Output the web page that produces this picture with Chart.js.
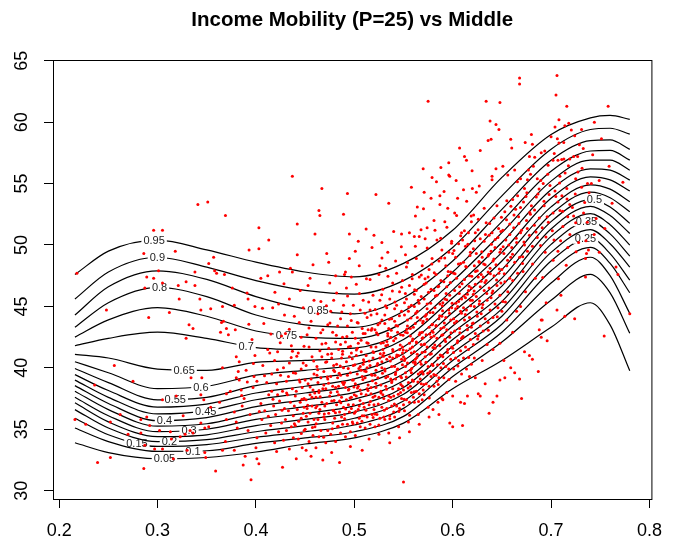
<!DOCTYPE html>
<html>
<head>
<meta charset="utf-8">
<title>Income Mobility (P=25) vs Middle</title>
<script src="https://cdn.jsdelivr.net/npm/chart.js@4.4.1/dist/chart.umd.min.js"></script>
<style>
  html, body { margin: 0; padding: 0; background: #fff; }
  #wrap { width: 674px; height: 546px; }
</style>
</head>
<body>
<div id="wrap"><canvas id="mobilityChart"></canvas></div>
<script>
const chartTitle = 'Income Mobility (P=25) vs Middle';

// Axis ticks
const xTicks = [0.2, 0.3, 0.4, 0.5, 0.6, 0.7, 0.8];
const xTickLabels = ['0.2', '0.3', '0.4', '0.5', '0.6', '0.7', '0.8'];
const yTicks = [30, 35, 40, 45, 50, 55, 60, 65];
const yTickLabels = ['30', '35', '40', '45', '50', '55', '60', '65'];

// Quantile curves, sampled at these "middle" values
const curveX = [0.216, 0.25, 0.3, 0.35, 0.4, 0.45, 0.5, 0.55, 0.6, 0.65, 0.7, 0.74, 0.76, 0.78];
const q05 = [33.9, 33.1, 32.6, 32.7, 33.15, 33.8, 34.3, 35.5, 38.3, 40.6, 43.3, 45.3, 43.5, 39.76];
const q10 = [35.1, 34.0, 33.2, 33.25, 33.85, 34.3, 34.8, 36.05, 39.3, 42.1, 45.5, 47.6, 46.1, 42.81];
const q15 = [35.9, 34.55, 33.6, 33.75, 34.35, 34.8, 35.35, 36.7, 40.0, 42.9, 46.9, 49.0, 47.5, 44.43];
const q20 = [36.6, 35.1, 34.0, 34.15, 34.8, 35.3, 35.9, 37.3, 40.6, 43.55, 47.9, 49.8, 48.5, 46.11];
const q25 = [37.15, 35.6, 34.4, 34.55, 35.3, 35.8, 36.4, 37.85, 41.2, 44.2, 48.7, 50.55, 49.3, 47.14];
const q30 = [37.6, 36.1, 34.8, 35.0, 35.8, 36.3, 36.9, 38.4, 41.75, 44.8, 49.4, 51.25, 50.1, 48.2];
const q35 = [38.1, 36.6, 35.25, 35.45, 36.3, 36.85, 37.45, 38.95, 42.3, 45.4, 50.05, 51.95, 50.9, 49.1];
const q40 = [38.55, 37.1, 35.7, 35.95, 36.85, 37.4, 38.0, 39.5, 42.85, 46.0, 50.7, 52.55, 51.65, 49.99];
const q45 = [39.0, 37.6, 36.25, 36.5, 37.4, 37.95, 38.55, 40.05, 43.4, 46.65, 51.3, 53.15, 52.4, 50.94];
const q50 = [39.45, 38.15, 36.8, 37.05, 37.95, 38.5, 39.1, 40.6, 43.95, 47.3, 51.9, 53.7, 53.1, 51.76];
const q55 = [39.95, 38.8, 37.4, 37.6, 38.55, 39.1, 39.65, 41.15, 44.5, 48.0, 52.5, 54.3, 53.85, 52.7];
const q60 = [40.5, 39.6, 38.3, 38.5, 39.4, 39.8, 40.25, 41.7, 45.1, 48.7, 53.1, 54.9, 54.55, 53.52];
const q65 = [41.1, 40.8, 39.9, 39.8, 40.45, 40.6, 40.9, 42.3, 45.7, 49.4, 53.8, 55.55, 55.3, 54.39];
const q70 = [41.8, 42.4, 42.9, 42.4, 41.65, 41.5, 41.6, 42.95, 46.35, 50.2, 54.5, 56.2, 56.1, 55.28];
const q75 = [42.5, 43.9, 44.9, 44.2, 43.0, 42.5, 42.4, 43.7, 47.05, 51.0, 55.2, 56.9, 56.9, 56.09];
const q80 = [43.3, 45.3, 46.55, 45.8, 44.3, 43.5, 43.3, 44.6, 47.8, 51.9, 56.0, 57.65, 57.7, 56.91];
const q85 = [44.3, 46.6, 47.9, 47.2, 45.8, 44.8, 44.4, 45.7, 48.7, 52.9, 56.9, 58.5, 58.55, 57.78];
const q90 = [45.6, 47.8, 49.0, 48.2, 47.1, 46.3, 46.0, 47.1, 49.8, 54.0, 57.8, 59.4, 59.5, 59.02];
const q95 = [47.6, 49.5, 50.4, 49.6, 48.6, 47.8, 47.4, 48.5, 51.2, 55.5, 59.0, 60.35, 60.55, 60.22];

const levels = ['0.05', '0.1', '0.15', '0.2', '0.25', '0.3', '0.35', '0.4', '0.45', '0.5',
                '0.55', '0.6', '0.65', '0.7', '0.75', '0.8', '0.85', '0.9', '0.95'];
const curves = [q05, q10, q15, q20, q25, q30, q35, q40, q45, q50,
                q55, q60, q65, q70, q75, q80, q85, q90, q95];
// where along x each curve carries its level label
const labelAt = [0.307, 0.336, 0.279, 0.312, 0.735, 0.332, 0.736, 0.307, 0.349, 0.744,
                 0.318, 0.344, 0.327, 0.39, 0.431, 0.302, 0.463, 0.2998, 0.2965];

// Counties: [middle, mobility]
const westPoints = [
  [0.218,47.7],[0.216,35.8],[0.227,35.4],[0.239,32.3],[0.236,38.6],[0.248,44.7],[0.252,32.7],[0.252,35.6],
  [0.256,40.2],[0.262,36.2],[0.27,34.6],[0.275,38.9],[0.283,35.8],[0.289,36.0],[0.292,35.3],[0.283,34.7],
  [0.286,31.8],[0.287,33.7],[0.291,44.1],[0.289,47.4],[0.296,51.2],[0.305,51.2],[0.286,49.3],[0.301,47.9],
  [0.296,47.3],[0.305,46.9],[0.287,46.5],[0.297,33.4],[0.302,34.9],[0.305,37.4],[0.305,33.4],[0.312,44.5],
  [0.313,34.8],[0.314,34.2],[0.316,32.6],[0.318,49.5],[0.319,37.7],[0.322,45.6],[0.321,46.7],[0.323,34.4],
  [0.326,36.1],[0.328,34.6],[0.329,47.0],[0.329,42.4],[0.33,33.3],[0.332,43.5],[0.333,34.9],[0.334,39.2],
  [0.336,43.2],[0.336,34.7],[0.338,47.8],[0.338,46.7],[0.341,53.3],[0.343,45.6],[0.344,44.7],[0.344,37.8],
  [0.344,35.5],[0.345,39.2],[0.347,37.4],[0.348,35.1],[0.348,33.1],[0.349,32.7],[0.351,53.5],[0.352,48.5],
  [0.352,35.2],[0.354,44.8],[0.354,36.8],[0.357,49.0],[0.358,47.9],[0.359,31.6],[0.36,47.7],[0.363,37.2],
  [0.364,42.9],[0.365,43.7],[0.366,45.0],[0.366,40.0],[0.366,33.3],[0.367,43.8],[0.368,47.6],[0.369,52.4],
  [0.369,34.0],[0.37,43.2],[0.37,35.8],[0.37,37.9],[0.372,42.7],[0.374,38.1],[0.376,46.5],[0.378,45.1],
  [0.378,36.4],[0.378,33.3],[0.379,43.1],[0.38,40.9],[0.38,35.6],[0.38,39.2],[0.381,35.1],[0.382,39.7],
  [0.383,40.5],[0.383,39.0],[0.385,38.2],[0.386,36.9],[0.387,32.1],[0.388,37.5],[0.389,32.8],[0.39,39.8],
  [0.391,46.1],[0.392,45.6],[0.392,34.9],[0.393,49.6],[0.394,36.2],[0.395,30.9],[0.396,42.3],[0.397,38.4],
  [0.398,39.3],[0.399,45.0],[0.399,41.0],[0.4,33.5],[0.401,34.3],[0.401,38.9],[0.401,32.6],[0.403,32.2],
  [0.403,51.4],[0.403,49.7],[0.405,37.1],[0.405,47.3],[0.406,35.8],[0.407,40.2],[0.408,43.6],[0.409,36.5],
  [0.41,34.7],[0.411,38.8],[0.412,41.5],[0.412,47.5],[0.413,37.8],[0.413,50.4],[0.414,41.2],[0.415,35.3],
  [0.416,39.5],[0.417,44.9],[0.418,36.9],[0.419,33.9],[0.416,38.1],[0.419,40.6],
  [0.3855,37.75],[0.3912,38.85],[0.4034,36.45],[0.4087,39.35],[0.4126,36.05],[0.4173,37.45],[0.4218,39.85],
  [0.4265,36.55],[0.4312,37.95],[0.4358,40.85],[0.4391,35.45],[0.4247,42.05],[0.4152,42.75],[0.3974,40.35],
  [0.3928,43.55],[0.4066,44.85],[0.4193,46.15],[0.4285,46.85],[0.4339,43.15],[0.4371,41.35]
];
const centralPoints = [
  [0.421,33.2],[0.427,31.9],[0.428,34.1],[0.423,34.8],[0.426,35.5],[0.42,36.2],[0.429,36.7],[0.424,37.3],
  [0.422,37.8],[0.427,38.1],[0.421,38.7],[0.425,39.4],[0.428,40.0],[0.422,41.3],[0.426,42.6],[0.429,44.3],
  [0.423,45.2],[0.424,47.8],
  [0.434,33.4],[0.438,34.3],[0.431,34.9],[0.436,35.2],[0.43,35.8],[0.433,36.5],[0.439,36.9],[0.435,37.2],
  [0.432,37.8],[0.437,38.3],[0.431,38.9],[0.438,39.6],[0.434,40.4],[0.436,41.8],[0.43,42.8],[0.439,44.2],
  [0.434,45.6],[0.435,48.1],[0.437,47.8],[0.437,55.6],[0.433,39.3],[0.438,36.1],
  [0.441,32.6],[0.447,33.5],[0.443,34.2],[0.449,34.9],[0.44,35.3],[0.446,35.9],[0.448,36.3],[0.442,36.6],
  [0.445,37.2],[0.449,37.5],[0.441,38.1],[0.447,38.4],[0.444,39.0],[0.446,39.9],[0.448,40.4],[0.443,41.2],
  [0.446,42.5],[0.444,43.7],[0.448,44.9],[0.445,46.3],[0.442,49.2],[0.442,51.7],[0.44,37.7],[0.449,36.8],
  [0.451,33.3],[0.456,32.8],[0.454,34.0],[0.458,34.5],[0.45,35.0],[0.453,35.6],[0.459,35.8],[0.455,36.3],
  [0.452,36.7],[0.457,36.9],[0.451,37.4],[0.455,37.8],[0.458,38.2],[0.453,38.7],[0.456,39.1],[0.459,39.5],
  [0.451,40.2],[0.457,40.9],[0.454,41.7],[0.452,42.7],[0.456,43.8],[0.459,45.5],[0.453,46.7],[0.455,47.3],
  [0.458,48.4],[0.45,39.0],[0.457,37.6],
  [0.461,33.5],[0.468,32.5],[0.464,34.4],[0.466,34.9],[0.46,35.2],[0.463,35.8],[0.469,36.0],[0.465,36.6],
  [0.462,36.9],[0.467,37.2],[0.461,37.6],[0.464,38.0],[0.468,38.3],[0.463,38.8],[0.466,39.2],[0.469,39.7],
  [0.462,40.1],[0.467,40.9],[0.465,41.4],[0.461,42.4],[0.468,43.1],[0.463,44.4],[0.466,45.4],[0.46,50.9],
  [0.464,52.8],[0.465,52.4],[0.467,54.6],[0.464,36.3],[0.469,38.6],[0.462,39.4],
  [0.471,33.9],[0.477,33.1],[0.476,34.6],[0.473,34.9],[0.478,35.5],[0.47,35.8],[0.474,36.3],[0.479,36.5],
  [0.472,37.1],[0.477,37.3],[0.475,37.7],[0.471,38.3],[0.478,38.5],[0.473,39.1],[0.476,39.3],[0.479,39.8],
  [0.472,40.5],[0.477,40.8],[0.474,41.6],[0.471,42.0],[0.478,42.9],[0.473,43.5],[0.476,44.6],[0.479,45.5],
  [0.472,49.3],[0.474,48.6],[0.475,46.9],[0.47,36.9],[0.476,38.0],[0.479,40.2],[0.473,41.1],
  [0.481,34.0],[0.485,32.3],[0.486,34.7],[0.483,35.2],[0.488,35.4],[0.48,35.9],[0.487,36.0],[0.485,36.4],
  [0.489,36.8],[0.482,37.0],[0.487,37.6],[0.484,37.8],[0.481,38.4],[0.484,38.5],[0.488,38.8],[0.483,39.2],
  [0.486,39.4],[0.489,40.0],[0.482,40.3],[0.487,40.8],[0.488,41.1],[0.484,41.5],[0.481,42.1],[0.488,42.5],
  [0.483,43.4],[0.486,44.0],[0.489,45.1],[0.482,46.1],[0.481,47.5],[0.489,52.5],[0.485,37.3],[0.48,39.7],
  [0.486,41.9],
  [0.491,34.4],[0.496,33.6],[0.496,34.8],[0.493,35.4],[0.498,35.6],[0.49,36.2],[0.495,36.4],[0.499,37.0],
  [0.494,37.0],[0.492,37.4],[0.497,37.6],[0.494,38.2],[0.491,38.4],[0.498,39.0],[0.499,39.0],[0.493,39.4],
  [0.496,39.6],[0.499,40.2],[0.492,40.5],[0.497,41.2],[0.494,41.7],[0.491,42.1],[0.498,42.9],[0.493,43.4],
  [0.496,44.4],[0.499,45.1],[0.492,46.5],[0.49,47.6],[0.491,47.8],[0.495,50.9],[0.495,48.9],[0.497,47.4],
  [0.493,54.2],[0.49,38.8],[0.495,40.9],[0.497,36.7],
  [0.501,34.5],[0.508,33.3],[0.506,35.2],[0.503,35.5],[0.508,36.1],[0.5,36.3],[0.505,36.9],[0.509,37.1],
  [0.502,37.7],[0.507,37.9],[0.504,38.5],[0.501,38.7],[0.508,39.3],[0.503,39.5],[0.506,40.1],[0.509,40.3],
  [0.502,41.0],[0.507,41.3],[0.504,42.0],[0.501,42.4],[0.508,43.2],[0.503,43.7],[0.506,44.7],[0.509,45.5],
  [0.502,46.8],[0.504,50.3],[0.501,49.5],[0.505,48.3],[0.505,35.9],[0.5,37.8],[0.507,39.8],[0.503,41.6],
  [0.509,42.8],[0.504,36.6],[0.506,38.2],
  [0.511,35.1],[0.515,34.2],[0.516,35.4],[0.513,36.0],[0.518,36.2],[0.51,36.8],[0.515,37.0],[0.519,37.6],
  [0.512,37.8],[0.517,38.4],[0.514,38.6],[0.511,39.2],[0.518,39.4],[0.513,40.0],[0.516,40.2],[0.519,40.8],
  [0.512,41.0],[0.517,41.7],[0.514,42.0],[0.511,42.8],[0.518,43.2],[0.513,44.1],[0.516,44.7],[0.519,45.9],
  [0.512,51.3],[0.518,49.8],[0.52,50.8],[0.51,36.1],[0.517,37.9],[0.512,39.7],[0.519,41.3],[0.514,43.1],
  [0.516,47.2],[0.513,38.3],[0.51,40.5],[0.517,44.3],
  [0.521,35.2],[0.525,34.6],[0.526,35.9],[0.523,36.2],[0.528,36.8],[0.52,37.0],[0.525,37.6],[0.529,37.8],
  [0.522,38.4],[0.527,38.6],[0.524,39.2],[0.521,39.4],[0.528,40.0],[0.523,40.2],[0.526,40.8],[0.529,41.0],
  [0.522,41.7],[0.527,42.0],[0.524,42.7],[0.521,43.1],[0.528,43.9],[0.523,44.4],[0.526,45.5],[0.529,46.4],
  [0.522,54.1],[0.528,50.2],[0.526,48.3],[0.52,36.6],[0.527,38.1],[0.522,39.8],[0.529,41.5],[0.524,43.5],
  [0.521,37.7],[0.528,40.5],[0.525,47.6],
  [0.531,35.8],[0.536,33.9],[0.535,34.7],[0.536,36.1],[0.533,36.7],[0.538,36.9],[0.53,37.5],[0.535,37.7],
  [0.539,38.3],[0.532,38.5],[0.537,39.1],[0.534,39.3],[0.531,39.9],[0.538,40.1],[0.533,40.7],[0.536,40.9],
  [0.539,41.5],[0.532,41.8],[0.537,42.5],[0.534,42.8],[0.531,43.6],[0.538,44.0],[0.533,44.9],[0.536,45.6],
  [0.539,46.9],[0.532,48.1],[0.535,53.4],[0.54,51.1],[0.53,36.0],[0.537,37.6],[0.532,39.2],[0.539,40.8],
  [0.534,42.6],[0.531,44.3],[0.538,38.8],[0.534,49.4],[0.53,41.2],[0.535,43.2],
  [0.541,36.0],[0.546,34.3],[0.545,35.2],[0.546,36.7],[0.543,36.9],[0.548,37.5],[0.54,37.7],[0.545,38.3],
  [0.549,38.5],[0.542,39.1],[0.547,39.3],[0.544,39.9],[0.541,40.1],[0.548,40.7],[0.543,40.9],[0.546,41.5],
  [0.549,41.7],[0.542,42.4],[0.547,42.7],[0.544,43.4],[0.541,43.8],[0.548,44.6],[0.543,45.1],[0.546,46.2],
  [0.549,47.1],[0.542,48.7],[0.548,50.9],[0.54,36.4],[0.547,38.0],[0.542,39.6],[0.549,41.2],[0.544,42.9],
  [0.541,44.8],[0.548,39.2],[0.543,47.7],[0.55,30.7],[0.545,41.0],[0.54,42.2],
  [0.551,36.5],[0.556,34.8],[0.555,35.6],[0.556,37.2],[0.553,37.4],[0.558,38.0],[0.55,38.2],[0.555,38.8],
  [0.559,39.0],[0.552,39.6],[0.557,39.8],[0.554,40.4],[0.551,40.6],[0.558,41.2],[0.553,41.4],[0.556,42.0],
  [0.559,42.2],[0.552,42.9],[0.557,43.2],[0.554,43.9],[0.551,44.3],[0.558,45.1],[0.553,45.6],[0.556,46.7],
  [0.559,47.6],[0.552,49.2],[0.556,51.0],[0.558,54.7],[0.55,37.0],[0.557,38.5],[0.552,40.1],[0.559,41.7],
  [0.554,43.4],[0.551,45.3],[0.558,39.6],[0.553,48.2],[0.557,42.6],[0.55,40.9],[0.555,44.6],
  [0.561,37.2],[0.566,35.4],[0.565,36.2],[0.566,37.9],[0.563,38.1],[0.568,38.7],[0.56,38.9],[0.565,39.5],
  [0.569,39.7],[0.562,40.3],[0.567,40.5],[0.564,41.1],[0.561,41.3],[0.568,41.9],[0.563,42.1],[0.566,42.7],
  [0.569,42.9],[0.562,43.6],[0.567,43.9],[0.564,44.6],[0.561,45.0],[0.568,45.8],[0.563,46.3],[0.566,47.4],
  [0.569,48.3],[0.562,49.9],[0.561,50.7],[0.566,50.7],[0.564,53.1],[0.56,37.6],[0.567,39.1],[0.562,40.7],
  [0.569,42.4],[0.564,44.1],[0.561,46.0],[0.568,40.3],[0.563,48.9],[0.56,43.3],[0.565,45.5],[0.569,37.4],
  [0.571,37.8],[0.576,36.0],[0.575,36.8],[0.576,38.5],[0.573,38.7],[0.578,39.3],[0.57,39.5],[0.575,40.1],
  [0.579,40.3],[0.572,40.9],[0.577,41.1],[0.574,41.7],[0.571,41.9],[0.578,42.5],[0.573,42.7],[0.576,43.3],
  [0.579,43.5],[0.572,44.2],[0.577,44.5],[0.574,45.2],[0.571,45.6],[0.578,46.4],[0.573,46.9],[0.576,48.0],
  [0.579,48.9],[0.572,50.5],[0.57,56.2],[0.571,54.3],[0.574,51.4],[0.578,53.8],[0.57,38.2],[0.577,39.7],
  [0.572,41.3],[0.579,43.0],[0.574,44.8],[0.571,46.8],[0.575,61.7],[0.579,55.5],[0.57,43.8],[0.575,47.4],
  [0.581,38.5],[0.58,36.6],[0.586,36.2],[0.585,37.2],[0.589,37.5],[0.586,39.2],[0.583,39.4],[0.588,40.0],
  [0.58,40.2],[0.585,40.8],[0.589,41.0],[0.582,41.6],[0.587,41.8],[0.584,42.4],[0.581,42.6],[0.588,43.2],
  [0.583,43.4],[0.586,44.0],[0.589,44.2],[0.582,44.9],[0.587,45.2],[0.584,45.9],[0.581,46.3],[0.588,47.1],
  [0.583,47.6],[0.586,48.7],[0.589,49.6],[0.582,51.2],[0.581,52.0],[0.588,56.3],[0.587,54.0],[0.587,53.3],
  [0.584,50.4],[0.58,44.5],[0.585,46.6],[0.58,42.9],[0.584,38.9],
  [0.591,39.2],[0.59,37.4],[0.597,35.5],[0.594,38.0],[0.596,39.9],[0.593,40.1],[0.598,40.7],[0.59,40.9],
  [0.595,41.5],[0.599,41.7],[0.592,42.3],[0.597,42.5],[0.594,43.1],[0.591,43.3],[0.598,43.9],[0.593,44.1],
  [0.596,44.7],[0.599,44.9],[0.592,45.6],[0.597,45.9],[0.594,46.6],[0.591,47.0],[0.598,47.8],[0.593,48.3],
  [0.596,49.4],[0.599,50.3],[0.592,51.9],[0.596,56.7],[0.596,55.7],[0.597,55.6],[0.595,53.0],[0.59,45.3],
  [0.595,47.5],[0.59,42.7],
  [0.601,39.9],[0.6,37.7],[0.608,37.2],[0.6,35.2],[0.603,38.9],[0.609,39.5],[0.606,40.6],[0.603,40.8],
  [0.608,41.4],[0.6,41.6],[0.605,42.2],[0.609,42.4],[0.602,43.0],[0.607,43.2],[0.604,43.8],[0.601,44.0],
  [0.608,44.6],[0.603,44.8],[0.606,45.4],[0.609,45.6],[0.602,46.3],[0.607,46.6],[0.604,47.3],[0.601,47.7],
  [0.608,48.5],[0.603,49.0],[0.606,50.1],[0.609,51.0],[0.602,52.6],[0.604,52.4],[0.605,53.8],[0.607,57.9],
  [0.605,45.0],[0.6,49.3],
  [0.611,40.8],[0.61,35.3],[0.612,37.1],[0.615,37.7],[0.617,39.3],[0.614,39.9],[0.619,40.3],[0.616,41.5],
  [0.613,41.7],[0.618,42.3],[0.61,42.5],[0.615,43.1],[0.619,43.3],[0.612,43.9],[0.617,44.1],[0.614,44.7],
  [0.611,44.9],[0.618,45.5],[0.613,45.7],[0.616,46.3],[0.619,46.5],[0.612,47.2],[0.617,47.5],[0.614,48.2],
  [0.611,48.6],[0.618,49.4],[0.613,49.9],[0.616,51.0],[0.619,51.9],[0.612,57.2],[0.614,56.9],[0.611,54.5],
  [0.615,46.0],[0.61,50.4],
  [0.5621,52.35],[0.5703,52.95],[0.5835,55.15],[0.5912,54.35],[0.6035,55.25],[0.6142,53.55],[0.6197,56.05]
];
// the thickest part of the cloud
const denseCore = [
  [0.4435,35.65],[0.4512,36.05],[0.4468,37.45],[0.4551,38.45],[0.4403,39.55],[0.4587,40.55],[0.4489,41.75],
  [0.4526,36.95],[0.4574,35.15],[0.4447,38.85],[0.4598,37.95],[0.4415,40.95],[0.4539,43.25],[0.4461,34.65],
  [0.4612,35.45],[0.4695,36.25],[0.4653,37.65],[0.4738,38.75],[0.4776,35.05],[0.4627,39.85],[0.4709,40.45],
  [0.4794,37.35],[0.4671,41.95],[0.4752,43.65],[0.4608,36.75],[0.4688,34.35],[0.4724,39.25],[0.4769,41.15],
  [0.4641,38.15],[0.4785,36.55],[0.4716,45.05],[0.4659,42.85],
  [0.4808,36.35],[0.4863,37.15],[0.4827,38.05],[0.4891,38.65],[0.4846,39.55],[0.4912,36.65],[0.4957,37.55],
  [0.4938,39.95],[0.4979,40.75],[0.4881,41.35],[0.4924,42.55],[0.4969,43.85],[0.4835,35.25],[0.4902,35.85],
  [0.4944,38.25],[0.4986,35.45],[0.4857,40.15],[0.4817,42.65],[0.4961,41.75],[0.4873,44.55],[0.4931,45.85],
  [0.4996,38.45],
  [0.5014,36.45],[0.5058,37.35],[0.5032,38.35],[0.5087,39.05],[0.5046,39.95],[0.5093,40.65],[0.5021,41.45],
  [0.5069,42.25],[0.5077,35.65],[0.5118,36.55],[0.5163,37.25],[0.5139,38.15],[0.5184,38.95],[0.5105,39.75],
  [0.5151,40.55],[0.5196,41.25],[0.5127,42.05],[0.5172,43.05],[0.5108,44.45],[0.5146,45.35],[0.5039,43.65],
  [0.5191,35.95],[0.5006,40.25],[0.5174,39.45],[0.5123,47.25],[0.5052,46.05],
  [0.5208,36.25],[0.5243,37.05],[0.5271,37.95],[0.5219,38.75],[0.5286,39.55],[0.5237,40.35],[0.5264,41.15],
  [0.5295,42.05],[0.5226,42.85],[0.5259,43.65],[0.5212,44.75],[0.5278,45.95],[0.5304,36.55],[0.5348,37.35],
  [0.5327,38.25],[0.5383,38.95],[0.5312,39.75],[0.5366,40.55],[0.5394,41.35],[0.5331,42.15],[0.5375,43.05],
  [0.5356,43.95],[0.5318,45.05],[0.5387,46.25],[0.5342,47.45],[0.5249,35.35],[0.5361,35.85],[0.5297,40.95],
  [0.5339,41.85],[0.5281,48.95],
  [0.5407,37.05],[0.5446,37.85],[0.5473,38.65],[0.5418,39.45],[0.5489,40.25],[0.5432,41.05],[0.5467,41.85],
  [0.5495,42.65],[0.5424,43.45],[0.5458,44.25],[0.5413,45.35],[0.5481,46.55],[0.5506,37.45],[0.5547,38.35],
  [0.5528,39.25],[0.5583,39.95],[0.5515,40.75],[0.5567,41.55],[0.5594,42.35],[0.5533,43.15],[0.5576,44.05],
  [0.5554,44.95],[0.5519,46.05],[0.5588,47.25],[0.5541,48.55],[0.5453,36.45],[0.5562,36.15],[0.5497,41.45],
  [0.5539,42.85],[0.5478,49.85],[0.5436,39.85],[0.5599,40.45],
  [0.5608,38.05],[0.5646,38.85],[0.5673,39.65],[0.5618,40.45],[0.5689,41.25],[0.5632,42.05],[0.5667,42.85],
  [0.5695,43.65],[0.5624,44.45],[0.5658,45.25],[0.5613,46.35],[0.5681,47.55],[0.5706,38.65],[0.5747,39.55],
  [0.5728,40.45],[0.5783,41.15],[0.5715,41.95],[0.5767,42.75],[0.5794,43.55],[0.5733,44.35],[0.5776,45.25],
  [0.5754,46.15],[0.5719,47.25],[0.5788,48.45],[0.5741,49.75],[0.5653,37.25],[0.5762,37.55],[0.5697,42.45],
  [0.5739,43.95],[0.5678,51.25],[0.5636,40.85],[0.5799,41.65],
  [0.5808,39.45],[0.5846,40.25],[0.5873,41.05],[0.5818,41.85],[0.5889,42.65],[0.5832,43.45],[0.5867,44.25],
  [0.5895,45.05],[0.5824,45.85],[0.5858,46.65],[0.5813,47.75],[0.5881,48.95],[0.5906,40.35],[0.5947,41.25],
  [0.5928,42.15],[0.5983,42.85],[0.5915,43.65],[0.5967,44.45],[0.5994,45.25],[0.5933,46.05],[0.5976,46.95],
  [0.5954,47.85],[0.5919,48.95],[0.5988,50.15],[0.5941,51.45],[0.5853,38.65],[0.5962,39.05],[0.5897,44.65],
  [0.5939,45.55],[0.5878,50.55],
  [0.6008,41.25],[0.6046,42.05],[0.6073,42.85],[0.6018,43.65],[0.6089,44.45],[0.6032,45.25],[0.6067,46.05],
  [0.6095,46.85],[0.6024,47.65],[0.6058,48.45],[0.6013,49.55],[0.6081,50.75],[0.6106,42.55],[0.6147,43.45],
  [0.6128,44.35],[0.6183,45.05],[0.6115,45.85],[0.6167,46.65],[0.6194,47.45],[0.6133,48.25],[0.6176,49.15],
  [0.6154,50.05],[0.6119,51.15],[0.6188,52.35],[0.6053,40.15],[0.6162,40.85],
  [0.6208,43.65],[0.6246,44.55],[0.6273,45.45],[0.6218,46.25],[0.6289,47.05],[0.6232,47.85],[0.6267,48.65],
  [0.6295,49.45],[0.6224,50.35],[0.6258,51.25],[0.6213,52.45],[0.6306,45.15],[0.6347,46.05],[0.6328,46.95],
  [0.6383,47.65],[0.6315,48.45],[0.6367,49.25],[0.6394,50.05],[0.6333,50.85],[0.6376,51.75],[0.6254,42.35],
  [0.6362,43.05],
  [0.6408,46.25],[0.6446,47.15],[0.6473,48.05],[0.6418,48.85],[0.6489,49.65],[0.6432,50.45],[0.6467,51.35],
  [0.6495,52.25],[0.6524,47.65],[0.6558,48.75],[0.6513,49.85],[0.6581,50.85],[0.6547,52.05],[0.6592,53.15],
  [0.6453,44.15],[0.6536,45.35],
  [0.6608,49.25],[0.6646,50.55],[0.6673,51.75],[0.6689,53.05],[0.6724,50.25],[0.6758,51.35],[0.6783,52.65],
  [0.6745,53.95],[0.6832,52.85],[0.6867,54.15],[0.6895,55.25],[0.6928,53.55],[0.6966,55.75],[0.6715,47.85]
];
const eastPoints = [
  [0.621,41.9],[0.623,39.2],[0.626,37.9],[0.628,37.7],[0.622,40.8],[0.626,42.6],[0.623,42.8],[0.628,43.4],
  [0.62,43.6],[0.625,44.2],[0.629,44.4],[0.622,45.0],[0.627,45.2],[0.624,45.8],[0.621,46.0],[0.628,46.6],
  [0.623,46.8],[0.626,47.4],[0.629,47.6],[0.622,48.3],[0.627,48.6],[0.624,49.3],[0.621,49.7],[0.628,50.5],
  [0.623,51.0],[0.626,52.1],[0.62,54.6],[0.627,54.8],[0.624,54.3],[0.628,57.7],[0.625,47.9],[0.62,45.5],
  [0.631,43.0],[0.633,38.7],[0.637,36.3],[0.63,40.6],[0.635,41.9],[0.636,43.7],[0.633,44.0],[0.638,44.7],
  [0.63,44.9],[0.635,45.5],[0.639,45.7],[0.632,46.3],[0.637,46.5],[0.634,47.1],[0.631,47.4],[0.638,48.1],
  [0.633,48.4],[0.636,49.1],[0.639,49.5],[0.632,50.3],[0.637,50.8],[0.634,51.8],[0.632,53.0],[0.634,61.7],
  [0.638,60.1],[0.636,58.5],[0.639,58.6],[0.636,47.8],[0.63,49.0],
  [0.641,44.1],[0.641,37.2],[0.645,37.7],[0.648,39.0],[0.641,41.5],[0.648,42.0],[0.646,44.9],[0.643,45.2],
  [0.648,45.9],[0.64,46.1],[0.645,46.7],[0.649,46.9],[0.642,47.5],[0.647,47.7],[0.644,48.4],[0.641,48.7],
  [0.648,49.4],[0.643,49.8],[0.646,50.6],[0.649,51.1],[0.642,52.2],[0.644,56.2],[0.64,55.6],[0.64,55.3],
  [0.644,59.8],[0.647,59.4],[0.648,61.6],[0.645,53.2],[0.64,51.0],
  [0.651,45.4],[0.653,39.2],[0.652,40.6],[0.659,40.0],[0.655,43.9],[0.656,46.2],[0.653,47.0],[0.658,47.3],
  [0.65,48.0],[0.655,48.3],[0.659,49.0],[0.652,49.3],[0.657,50.0],[0.654,50.4],[0.651,51.2],[0.658,51.7],
  [0.653,52.7],[0.656,55.7],[0.651,56.4],[0.659,58.6],[0.655,53.6],[0.65,44.6],
  [0.661,47.1],[0.663,39.6],[0.668,39.1],[0.665,44.6],[0.669,45.0],[0.661,42.9],[0.666,47.7],[0.663,48.6],
  [0.668,49.0],[0.66,49.8],[0.665,50.2],[0.669,51.0],[0.662,51.4],[0.667,52.3],[0.664,52.9],[0.66,57.9],
  [0.663,56.1],[0.669,55.4],[0.668,63.6],[0.668,63.1],[0.666,54.0],[0.661,53.7],
  [0.671,48.5],[0.673,41.3],[0.678,41.0],[0.67,37.5],[0.674,46.2],[0.676,49.5],[0.673,50.0],[0.678,50.8],
  [0.67,51.2],[0.675,52.0],[0.679,52.5],[0.672,53.5],[0.677,56.1],[0.678,57.2],[0.673,54.6],[0.676,55.3],
  [0.681,49.9],[0.681,40.7],[0.688,43.1],[0.687,39.7],[0.684,47.3],[0.686,50.6],[0.683,51.6],[0.688,52.2],
  [0.68,53.2],[0.685,53.9],[0.68,59.0],[0.681,58.2],[0.69,57.5],[0.686,55.4],[0.682,56.4],
  [0.691,51.4],[0.69,43.9],[0.691,43.9],[0.695,45.3],[0.696,42.2],[0.69,42.5],[0.7,58.8],[0.694,49.4],
  [0.696,52.3],[0.693,53.2],[0.698,54.1],[0.692,55.0],[0.697,56.5],
  [0.702,52.6],[0.706,44.7],[0.707,49.5],[0.703,50.4],[0.709,52.8],[0.707,53.5],[0.704,54.4],[0.709,55.6],
  [0.702,56.9],[0.707,56.9],[0.704,59.6],[0.708,60.2],[0.705,62.2],[0.706,63.8],[0.708,58.3],
  [0.711,54.0],[0.716,54.6],[0.712,51.5],[0.717,52.3],[0.714,59.7],[0.718,59.9],[0.716,61.3],[0.71,45.9],
  [0.714,44.2],[0.719,53.3],[0.713,57.0],[0.719,57.0],[0.717,49.8],
  [0.723,57.2],[0.727,57.2],[0.724,58.9],[0.725,55.4],[0.725,51.8],[0.724,44.0],[0.728,50.2],[0.731,54.7],
  [0.731,59.4],[0.737,55.0],[0.736,49.3],[0.738,49.6],[0.735,48.9],[0.735,47.4],[0.733,52.6],[0.741,55.0],
  [0.744,60.0],[0.749,49.4],[0.754,42.6],[0.759,56.4],[0.758,61.3],[0.766,48.2],[0.768,47.6],[0.773,55.1],
  [0.78,44.4],[0.762,53.4],
  [0.7013,51.15],[0.7048,53.95],[0.7086,55.05],[0.7032,57.45],[0.7064,58.65],[0.7097,50.35],[0.7021,48.75],
  [0.7075,47.25],[0.7118,52.75],[0.7143,55.85],[0.7176,56.45],[0.7129,58.35],[0.7162,53.75],[0.7191,50.85],
  [0.7108,56.95],[0.7154,48.35],[0.7217,53.05],[0.7246,54.15],[0.7273,55.95],[0.7229,52.35],[0.7288,58.15],
  [0.7254,49.45],[0.7206,59.35],[0.7315,56.25],[0.7342,53.45],[0.7368,51.85],[0.7327,57.85],[0.7386,54.25],
  [0.7355,50.35],[0.7423,57.35],[0.7458,52.15],[0.7489,55.25],[0.7512,58.65],[0.7547,51.35],[0.7438,50.85],
  [0.6812,48.45],[0.6847,51.05],[0.6878,54.55],[0.6834,57.15],[0.6893,49.95],[0.6915,47.35],[0.6948,50.65],
  [0.6972,51.85],[0.6989,54.85],[0.6936,57.65],[0.6623,52.45],[0.6658,55.15],[0.6712,49.05],[0.6754,54.25],
  [0.6791,55.75],[0.6737,58.35]
];

const FONT = '"Liberation Sans", Arial, Helvetica, sans-serif';
const labelBoxes = [];

// y pixel of a drawn (bezier) curve at pixel x
function curvePixelY(points, px) {
  for (let i = 0; i < points.length - 1; i++) {
    const a = points[i], b = points[i + 1];
    if (px < a.x || px > b.x) continue;
    const c1x = a.cp2x ?? a.x, c1y = a.cp2y ?? a.y;
    const c2x = b.cp1x ?? b.x, c2y = b.cp1y ?? b.y;
    let best = a.y, gap = Infinity;
    for (let k = 0; k <= 80; k++) {
      const t = k / 80, u = 1 - t;
      const bx = u * u * u * a.x + 3 * u * u * t * c1x + 3 * u * t * t * c2x + t * t * t * b.x;
      const d = Math.abs(bx - px);
      if (d < gap) {
        gap = d;
        best = u * u * u * a.y + 3 * u * u * t * c1y + 3 * u * t * t * c2y + t * t * t * b.y;
      }
    }
    return best;
  }
  return points[points.length - 1].y;
}

// Breaks each curve where its level label sits, then writes the labels
const contourLabels = {
  id: 'contourLabels',
  beforeDatasetDraw(chart, args) {
    const ctx = chart.ctx;
    if (args.index === 0) {
      ctx.save();
      ctx.font = '11px ' + FONT;
      ctx.fillStyle = '#222';
      ctx.textAlign = 'center';
      ctx.textBaseline = 'middle';
      labelBoxes.forEach(b => { if (b) ctx.fillText(b.text, b.x, b.y + 0.5); });
      ctx.restore();
      return;
    }
    const k = args.index - 1;
    args.meta.dataset.updateControlPoints(chart.chartArea, 'x');
    const px = chart.scales.x.getPixelForValue(labelAt[k]);
    const py = curvePixelY(args.meta.data, px);
    ctx.save();
    ctx.font = '11px ' + FONT;
    const w = ctx.measureText(levels[k]).width + 4;
    const h = 10;
    labelBoxes[k] = { text: levels[k], x: px, y: py };
    ctx.beginPath();
    ctx.rect(0, 0, chart.width, chart.height);
    ctx.rect(px - w / 2, py - h / 2, w, h);
    ctx.clip('evenodd');
  },
  afterDatasetDraw(chart, args) {
    if (args.index > 0) chart.ctx.restore();
  }
};

// Plot frame, rotated y labels and the title
const frameAndTitle = {
  id: 'frameAndTitle',
  afterDraw(chart) {
    const { ctx, chartArea: a, scales } = chart;
    ctx.save();
    ctx.strokeStyle = '#000';
    ctx.lineWidth = 1;
    ctx.strokeRect(a.left + 0.5, a.top + 0.5, a.right - a.left, a.bottom - a.top);

    ctx.fillStyle = '#000';
    ctx.font = '18px ' + FONT;
    ctx.textAlign = 'center';
    ctx.textBaseline = 'middle';
    yTicks.forEach((v, i) => {
      ctx.save();
      ctx.translate(a.left - 31, scales.y.getPixelForValue(v));
      ctx.rotate(-Math.PI / 2);
      ctx.fillText(yTickLabels[i], 0, 0);
      ctx.restore();
    });

    ctx.font = 'bold 20.5px ' + FONT;
    ctx.fillText(chartTitle, (a.left + a.right) / 2, 20);
    ctx.restore();
  }
};

const allPoints = westPoints.concat(centralPoints, denseCore, eastPoints).map(p => ({ x: p[0], y: p[1] }));

const datasets = [{
  type: 'scatter',
  label: 'counties',
  data: allPoints,
  pointRadius: 1.5,
  pointBackgroundColor: '#ff0000',
  pointBorderWidth: 0,
  showLine: false
}];
curves.forEach((ys, k) => {
  datasets.push({
    type: 'line',
    label: levels[k],
    data: curveX.map((x, i) => ({ x: x, y: ys[i] })),
    borderColor: '#000',
    borderWidth: 1.2,
    pointRadius: 0,
    fill: false,
    cubicInterpolationMode: 'monotone'
  });
});

new Chart(document.getElementById('mobilityChart').getContext('2d'), {
  type: 'scatter',
  data: { datasets: datasets },
  options: {
    responsive: true,
    maintainAspectRatio: false,
    devicePixelRatio: 1,
    animation: false,
    events: [],
    layout: { padding: { top: 60, right: 13, bottom: 0, left: 0 } },
    plugins: {
      legend: { display: false },
      tooltip: { enabled: false },
      title: { display: false }
    },
    scales: {
      x: {
        type: 'linear',
        min: 0.1937,
        max: 0.802,
        afterBuildTicks: s => { s.ticks = xTicks.map(v => ({ value: v })); },
        afterFit: s => { s.height = 47; },
        grid: { drawOnChartArea: false, drawTicks: true, tickLength: 9, color: '#000' },
        border: { display: false },
        ticks: {
          autoSkip: false,
          maxRotation: 0,
          padding: 12,
          color: '#000',
          font: { size: 18, family: FONT },
          callback: (v, i) => xTickLabels[i]
        }
      },
      y: {
        type: 'linear',
        min: 29.324,
        max: 65.057,
        afterBuildTicks: s => { s.ticks = yTicks.map(v => ({ value: v })); },
        afterFit: s => { s.width = 53; },
        grid: { drawOnChartArea: false, drawTicks: true, tickLength: 9, color: '#000' },
        border: { display: false },
        ticks: { display: false }
      }
    }
  },
  plugins: [contourLabels, frameAndTitle]
});
</script>
</body>
</html>
